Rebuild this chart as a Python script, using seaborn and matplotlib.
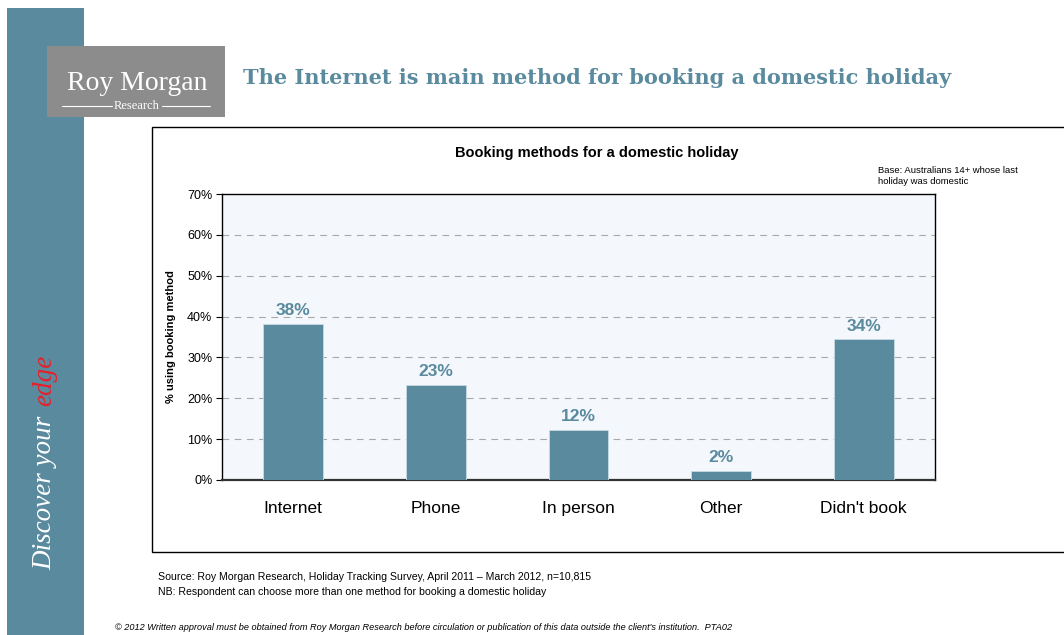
import matplotlib
matplotlib.use("Agg")
import matplotlib.pyplot as plt
import seaborn as sns
import pandas as pd
from matplotlib.patches import Rectangle
from matplotlib.lines import Line2D

# chart data
methods = ["Internet", "Phone", "In person", "Other", "Didn't book"]
percent = [38.3, 23.3, 12.3, 2.3, 34.4]
labels = ["38%", "23%", "12%", "2%", "34%"]
yticks = [0, 10, 20, 30, 40, 50, 60, 70]

teal = "#5a8a9e"

sns.set_style("white")
plt.rcParams["font.family"] = ["Liberation Sans", "DejaVu Sans"]
plt.rcParams["text.color"] = "black"
plt.rcParams["xtick.color"] = "black"
plt.rcParams["ytick.color"] = "black"
plt.rcParams["axes.labelcolor"] = "black"

fig = plt.figure(figsize=(10.64, 6.35), dpi=100)
W, H = 1064, 635


def fx(px):
    return px / W


def fy(py):
    return 1 - py / H


# left side strip
fig.patches.append(Rectangle((fx(7), 0), fx(84) - fx(7), fy(8), transform=fig.transFigure,
                             facecolor=teal, edgecolor="none", zorder=0))
# logo box
fig.patches.append(Rectangle((fx(47), fy(117)), fx(225) - fx(47), fy(46) - fy(117),
                             transform=fig.transFigure, facecolor="#8c8c8c", edgecolor="none", zorder=1))
fig.text(fx(137), fy(84), "Roy Morgan", family="Liberation Serif", color="white", fontsize=20,
         ha="center", va="center")
fig.text(fx(137), fy(106), "Research", family="Liberation Serif", color="white", fontsize=9,
         ha="center", va="center")
fig.lines.append(Line2D([fx(62), fx(112)], [fy(106), fy(106)], transform=fig.transFigure, color="white", lw=0.8))
fig.lines.append(Line2D([fx(162), fx(210)], [fy(106), fy(106)], transform=fig.transFigure, color="white", lw=0.8))

# vertical slogan
fig.text(fx(45), fy(570), "Discover your", family="Liberation Serif", style="italic", color="white",
         fontsize=19.5, rotation=90, ha="center", va="bottom")
fig.text(fx(45), fy(406), "edge", family="Liberation Serif", style="italic", color="#e8202a",
         fontsize=19.5, rotation=90, ha="center", va="bottom")

# headline
fig.text(fx(243), fy(78), "The Internet is main method for booking a domestic holiday",
         family="DejaVu Serif", weight="heavy", color=teal, fontsize=15, ha="left", va="center")

# chart frame
fig.patches.append(Rectangle((fx(152), fy(552)), 1.0, fy(127) - fy(552), transform=fig.transFigure,
                             facecolor="white", edgecolor="black", lw=1, zorder=1))

ax = fig.add_axes([fx(222), fy(480), fx(935) - fx(222), fy(194) - fy(480)], zorder=2)
df = pd.DataFrame({"method": methods, "percent": percent})
sns.barplot(data=df, x="method", y="percent", color=teal, saturation=1, width=0.42, ax=ax,
            edgecolor="#c8dbe4", linewidth=0.6, zorder=3)
ax.set_facecolor("#f4f8fc")
ax.set_ylim(0, 70)
ax.set_yticks(yticks)
ax.set_yticklabels([f"{t}%" for t in yticks], fontsize=9)
ax.set_xlabel("")
ax.set_ylabel("% using booking method", fontsize=8, weight="bold", labelpad=8)
ax.tick_params(axis="x", labelsize=12.5, length=0, pad=15)
ax.tick_params(axis="y", length=4, direction="out", left=True, width=0.8, pad=3)
for t in yticks[1:-1]:
    ax.axhline(t, color="#a8a8a8", lw=0.8, ls=(0, (6, 5)), zorder=1)
for s in ax.spines.values():
    s.set_visible(True)
    s.set_color("black")
    s.set_linewidth(1)
ax.spines["bottom"].set_linewidth(1.6)
ax.spines["bottom"].set_color("#333333")
for i, (v, lab) in enumerate(zip(percent, labels)):
    ax.text(i, v + 1.3, lab, ha="center", va="bottom", color=teal, fontsize=12.5, weight="bold")

fig.text(fx(597), fy(153), "Booking methods for a domestic holiday", fontsize=10.5, weight="bold",
         ha="center", va="center", zorder=3)
fig.text(fx(878), fy(176), "Base: Australians 14+ whose last\nholiday was domestic", fontsize=6.8,
         ha="left", va="center", linespacing=1.3, zorder=3)

fig.text(fx(158), fy(577), "Source: Roy Morgan Research, Holiday Tracking Survey, April 2011 \u2013 March 2012, n=10,815",
         fontsize=7.6, ha="left", va="center")
fig.text(fx(158), fy(592), "NB: Respondent can choose more than one method for booking a domestic holiday",
         fontsize=7.6, ha="left", va="center")
fig.text(fx(115), fy(628), "\u00a9 2012 Written approval must be obtained from Roy Morgan Research before circulation "
         "or publication of this data outside the client's institution.  PTA02",
         fontsize=6.6, style="italic", ha="left", va="center")

fig.savefig("out.png", dpi=100)
